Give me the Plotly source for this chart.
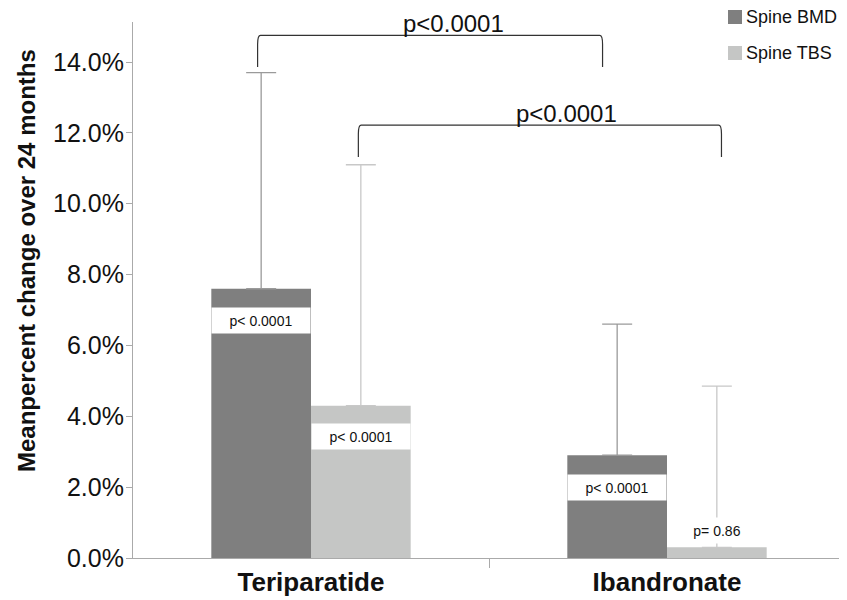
import plotly.graph_objects as go

# ---- data ----
categories = ["Teriparatide", "Ibandronate"]
series_names = ["Spine BMD", "Spine TBS"]
bmd_mean = [7.6, 2.9]
tbs_mean = [4.3, 0.3]
bmd_err_plus = [6.1, 3.7]
tbs_err_plus = [6.8, 4.55]
bmd_p_labels = ["p< 0.0001", "p< 0.0001"]
tbs_p_labels = ["p< 0.0001", "p= 0.86"]
bmd_p_label_y = [6.7, 2.0]
tbs_p_label_y = [3.44, 0.79]
y_tick_values = [0, 2, 4, 6, 8, 10, 12, 14]
# comparison brackets: (x0, x1, y_top, y_leg_end, text, text_x)
brackets = [
    (-0.150, 0.819, 14.75, 13.86, "p<0.0001", 0.40),
    (0.133, 1.153, 12.22, 11.32, "p<0.0001", 0.718),
]

BMD_COLOR = "#7f7f7f"
TBS_COLOR = "#c5c6c5"
series_colors = [BMD_COLOR, TBS_COLOR]
FONT = "Liberation Sans, Arial, Helvetica, sans-serif"

# page is rendered with an 8px body margin; figure coordinates are offset by it
OFF = 8
W, H = 847 - OFF, 600 - OFF
ML, MR, MT, MB = 133 - OFF, 2, 22 - OFF, 600 - 558
PW, PH = W - ML - MR, H - MT - MB


def px_to_paper_x(px):
    return (px - OFF - ML) / PW


def px_to_paper_y(py):
    return (H - MB - (py - OFF)) / PH


x_pos = list(range(len(categories)))
bargap = 0.44
bar_w = (1 - bargap) / 2
bmd_x = [x - bar_w / 2 for x in x_pos]
tbs_x = [x + bar_w / 2 for x in x_pos]

fig = go.Figure()
fig.add_trace(go.Bar(
    x=x_pos, y=bmd_mean, name=series_names[0], marker_color=BMD_COLOR,
    marker_line_width=0, showlegend=False,
    error_y=dict(type="data", array=bmd_err_plus, arrayminus=[0] * len(bmd_mean),
                 color="#9a9a9a", thickness=1.3, width=15, symmetric=False),
))
fig.add_trace(go.Bar(
    x=x_pos, y=tbs_mean, name=series_names[1], marker_color=TBS_COLOR,
    marker_line_width=0, showlegend=False,
    error_y=dict(type="data", array=tbs_err_plus, arrayminus=[0] * len(tbs_mean),
                 color="#c8c8c8", thickness=1.3, width=15, symmetric=False),
))

annotations = []
for xs, ys, labels in [(bmd_x, bmd_p_label_y, bmd_p_labels), (tbs_x, tbs_p_label_y, tbs_p_labels)]:
    for x, y, t in zip(xs, ys, labels):
        annotations.append(dict(
            x=x, y=y, xref="x", yref="y", text=t, showarrow=False,
            bgcolor="white", width=96, height=23,
            font=dict(family=FONT, size=14, color="#111111"),
        ))

shapes = []
for x0, x1, yt, yl, text, tx in brackets:
    rx, ry = 0.008, 0.25
    path = (f"M {x0},{yl} L {x0},{yt - ry} Q {x0},{yt} {x0 + rx},{yt} "
            f"L {x1 - rx},{yt} Q {x1},{yt} {x1},{yt - ry} L {x1},{yl}")
    shapes.append(dict(type="path", path=path, xref="x", yref="y",
                       line=dict(color="#333333", width=1.2)))
    annotations.append(dict(
        x=tx, y=yt, xref="x", yref="y", text=text, showarrow=False,
        yanchor="bottom", yshift=-4,
        font=dict(family=FONT, size=24, color="#111111"),
    ))

# y-axis title placed as rotated text
annotations.append(dict(
    x=px_to_paper_x(26), y=px_to_paper_y(261), xref="paper", yref="paper",
    xanchor="center", yanchor="middle",
    text="<b>Meanpercent change over 24 months</b>",
    showarrow=False, textangle=-90,
    font=dict(family=FONT, size=24, color="#111111"),
))

# legend (drawn as swatches + labels)
legend_rows_py = [17, 53]
for name, color, py in zip(series_names, series_colors, legend_rows_py):
    shapes.append(dict(type="rect", xref="paper", yref="paper",
                       x0=px_to_paper_x(728), x1=px_to_paper_x(742),
                       y0=px_to_paper_y(py + 7), y1=px_to_paper_y(py - 7),
                       fillcolor=color, line=dict(width=0)))
    annotations.append(dict(
        x=px_to_paper_x(744), y=px_to_paper_y(py), xref="paper", yref="paper",
        xanchor="left", yanchor="middle", text=name, showarrow=False,
        font=dict(family=FONT, size=18, color="#111111"),
    ))

fig.update_layout(
    width=W, height=H,
    margin=dict(l=ML, r=MR, t=MT, b=MB, autoexpand=False),
    paper_bgcolor="white", plot_bgcolor="white",
    barmode="group", bargap=bargap, bargroupgap=0,
    font=dict(family=FONT, color="#111111"),
    showlegend=False,
    shapes=shapes,
    annotations=annotations,
)

fig.update_xaxes(
    range=[-0.5, 1.5], tickvals=x_pos, ticktext=[f"<b>{c}</b>" for c in categories],
    tickfont=dict(family=FONT, size=26, color="#111111"),
    showline=True, linecolor="#aaaaaa", linewidth=1.2,
    ticks="", showgrid=False, zeroline=False, automargin=False,
    ticklabelstandoff=1,
    minor=dict(tickvals=[0.5, 1.5], ticks="outside", ticklen=9, tickcolor="#aaaaaa"),
)
fig.update_yaxes(
    range=[0, 15.13], tickvals=y_tick_values,
    ticktext=[f"{v:.1f}%" for v in y_tick_values],
    tickfont=dict(family=FONT, size=25, color="#111111"),
    showline=True, linecolor="#aaaaaa", linewidth=1.2,
    ticks="outside", ticklen=6, tickcolor="#aaaaaa",
    ticklabelstandoff=-3,
    showgrid=False, zeroline=False, automargin=False,
)

fig.write_html("out.html")
